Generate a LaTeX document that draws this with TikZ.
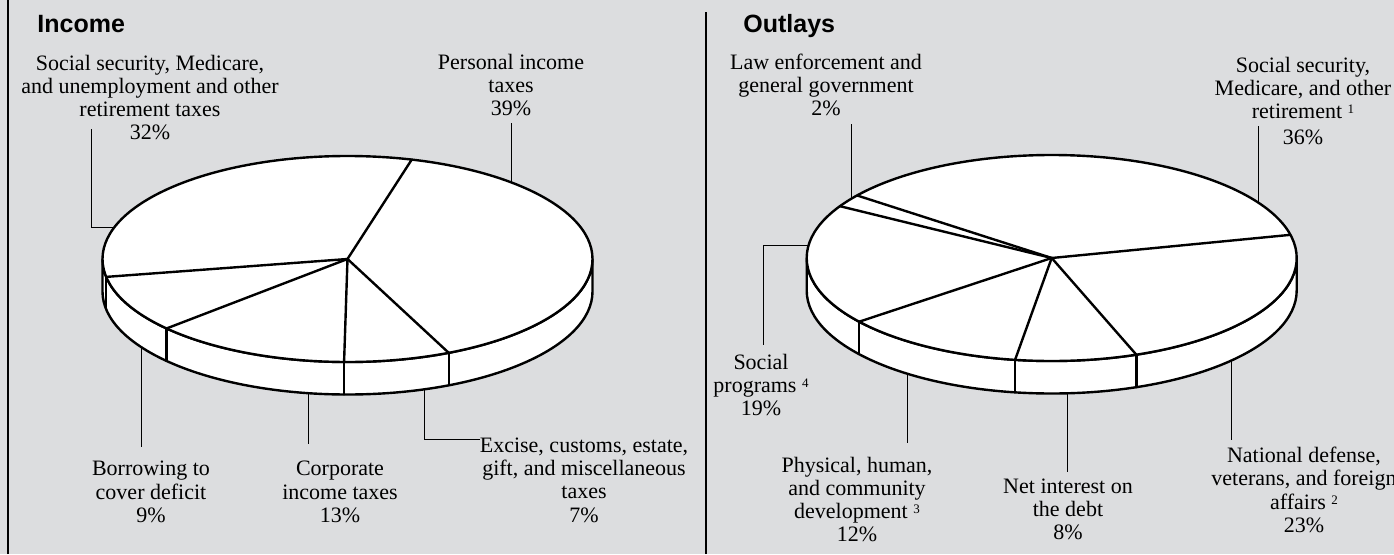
\documentclass[tikz,border=0pt]{standalone}
\usepackage{fontspec}
\setmainfont{Liberation Serif}
\newfontfamily\headfont{Liberation Sans}
\usetikzlibrary{calc}

\definecolor{panelgray}{RGB}{220,221,223}
\newcommand\lblfont{\fontsize{11}{11.65}\selectfont}
\newcommand\ttlfont{\headfont\bfseries\fontsize{12.5}{14}\selectfont}
\newcommand\fnmark[1]{\raisebox{0.5ex}{\fontsize{6.5}{6.5}\selectfont #1}}

\begin{document}
\begin{tikzpicture}[
    x=0.5pt, y=0.5pt,
    pie/.style={draw, line width=1.2pt, fill=white, line join=round},
    cut/.style={line width=1.2pt, line cap=round},
    leader/.style={line width=0.5pt},
    lbl/.style={align=center, font=\lblfont, inner sep=0pt},
    ttl/.style={anchor=base west, font=\ttlfont, inner sep=0pt}
]
    \fill[panelgray] (0,0) rectangle (1394,554);
    \useasboundingbox (0,0) rectangle (1394,554);
    \draw[line width=1pt] (7.5,0) -- (7.5,554);
    \draw[line width=0.8pt] (706,0) -- (706,542);

    \node[ttl] (income) at (37,522) {Income};
    \node[ttl] (outlays) at (743,522) {Outlays};

    % income pie
    \begin{scope}[shift={(347.5,295)}]
        \filldraw[pie] (-245,0) -- (-245,-32.5)
            arc[start angle=180, end angle=360, x radius=245, y radius=103]
            -- (245,0) arc[start angle=360, end angle=180, x radius=245, y radius=103] -- cycle;
        \filldraw[pie] (0,0) ellipse[x radius=245, y radius=103];
        \foreach \a in {74.8,190,222.4,269.2,294.4}
            \draw[cut] (0,0) -- (\a:245 and 103);
        \foreach \a in {190,222.4,269.2,294.4}
            \draw[cut] (\a:245 and 103) -- ++(0,-32.5);

        \coordinate (ssPt) at (162.1:245 and 103);
        \coordinate (piPt) at (47.9:245 and 103);
        \coordinate (boPt) at ($(0,-32.5)+(212.9:245 and 103)$);
        \coordinate (coPt) at ($(0,-32.5)+(260.8:245 and 103)$);
        \coordinate (exPt) at ($(0,-32.5)+(288.4:245 and 103)$);
        \coordinate (ssEnd) at (-255.8,130);
        \coordinate (exEnd) at (132.5,-180.3);
        \draw[leader] (ssEnd) |- (ssPt);
        \draw[leader] (piPt) -- (piPt |- 0,136);
        \draw[leader] (boPt) -- (boPt |- 0,-187.7);
        \draw[leader] (coPt) -- (coPt |- 0,-185);
        \draw[leader] (exPt) |- (exEnd);
    \end{scope}

    \node[lbl] (ssLbl) at (150,456.5) {Social security, Medicare,\\and unemployment and other\\retirement taxes\\32\%};
    \node[lbl] (piLbl) at (511,469) {Personal income\\taxes\\39\%};
    \node[lbl] (boLbl) at (151,62) {Borrowing to\\cover deficit\\9\%};
    \node[lbl] (coLbl) at (340,62) {Corporate\\income taxes\\13\%};
    \node[lbl] (exLbl) at (584,74) {Excise, customs, estate,\\gift, and miscellaneous\\taxes\\7\%};

    % outlays pie
    \begin{scope}[shift={(1051.7,296)}]
        \filldraw[pie] (-245,0) -- (-245,-32.5)
            arc[start angle=180, end angle=360, x radius=245, y radius=103]
            -- (245,0) arc[start angle=360, end angle=180, x radius=245, y radius=103] -- cycle;
        \filldraw[pie] (0,0) ellipse[x radius=245, y radius=103];
        \foreach \a in {13,142.6,149.8,218.2,261.4,290.2}
            \draw[cut] (0,0) -- (\a:245 and 103);
        \foreach \a in {218.2,261.4,290.2}
            \draw[cut] (\a:245 and 103) -- ++(0,-32.5);

        \coordinate (lePt) at (145:245 and 103);
        \coordinate (srPt) at (32.4:245 and 103);
        \coordinate (spPt) at (173.3:245 and 103);
        \coordinate (spEnd) at (-288.7,-87);
        \coordinate (phPt) at ($(0,-32.5)+(233.9:245 and 103)$);
        \coordinate (niPt) at ($(0,-32.5)+(273.8:245 and 103)$);
        \coordinate (ndPt) at ($(0,-32.5)+(317.2:245 and 103)$);
        \draw[leader] (lePt) -- (lePt |- 0,134);
        \draw[leader] (srPt) -- (srPt |- 0,132);
        \draw[leader] (spPt) -| (spEnd);
        \draw[leader] (phPt) -- (phPt |- 0,-185);
        \draw[leader] (niPt) -- (niPt |- 0,-213.7);
        \draw[leader] (ndPt) -- (ndPt |- 0,-182);
    \end{scope}

    \node[lbl] (leLbl) at (826,469) {Law enforcement and\\general government\\2\%};
    \node[lbl] (srLbl) at (1303,453) {Social security,\\Medicare, and other\\retirement \fnmark{1}\\[1.5pt]36\%};
    \node[lbl] (spLbl) at (761,169) {Social\\programs \fnmark{4}\\19\%};
    \node[lbl] (phLbl) at (857,54.5) {Physical, human,\\and community\\development \fnmark{3}\\12\%};
    \node[lbl] (niLbl) at (1068,44.5) {Net interest on\\the debt\\8\%};
    \node[lbl] (ndLbl) at (1304,64) {National defense,\\veterans, and foreign\\affairs \fnmark{2}\\23\%};
\end{tikzpicture}
\end{document}
